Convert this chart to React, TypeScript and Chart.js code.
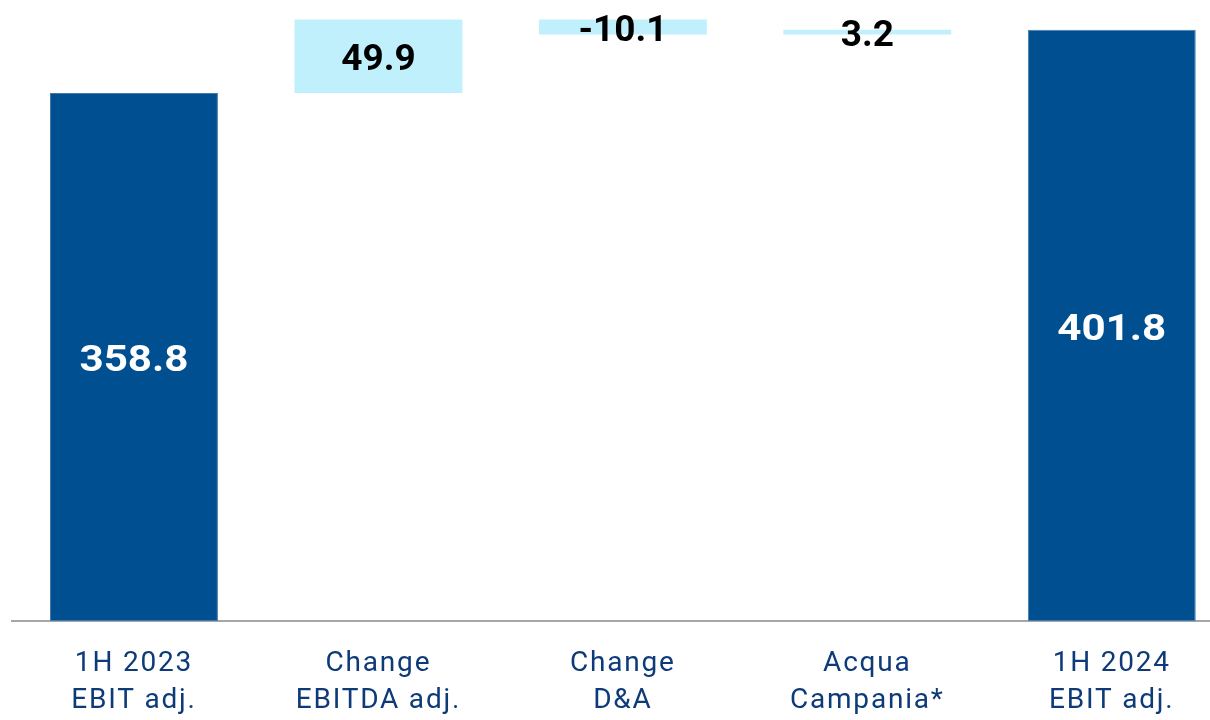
import React, { useEffect, useRef } from "react";
import { Chart, registerables } from "chart.js";

Chart.register(...registerables);

const categories: string[][] = [
  ["1H 2023", "EBIT adj."],
  ["Change", "EBITDA adj."],
  ["Change", "D&A"],
  ["Acqua", "Campania*"],
  ["1H 2024", "EBIT adj."],
];
const values: number[] = [358.8, 49.9, -10.1, 3.2, 401.8];
const isTotal: boolean[] = [true, false, false, false, true];

const DARK = "#004f91";
const LIGHT = "#c0f0fb";

function buildRanges(): [number, number][] {
  let running = 0;
  return values.map((v, i) => {
    if (isTotal[i]) {
      running = v;
      return [0, v] as [number, number];
    }
    const start = running;
    running = running + v;
    return [start, running] as [number, number];
  });
}

const spacingPlugin = {
  id: "tickSpacing",
  beforeDraw(chart: any) {
    (chart.ctx as any).letterSpacing = "1.8px";
  },
  afterDraw(chart: any) {
    (chart.ctx as any).letterSpacing = "0px";
  },
};

const labelPlugin = {
  id: "wfLabels",
  afterDatasetsDraw(chart: any) {
    const ctx = chart.ctx;
    const meta = chart.getDatasetMeta(0);
    const size = 37;
    meta.data.forEach((bar: any, i: number) => {
      const p = bar.getProps(["x", "y", "base"], true);
      const cy = (p.y + p.base) / 2;
      ctx.save();
      (ctx as any).letterSpacing = "0px";
      ctx.font = `bold ${size}px Roboto`;
      ctx.textAlign = "center";
      ctx.textBaseline = "alphabetic";
      ctx.fillStyle = isTotal[i] ? "#ffffff" : "#000000";
      ctx.translate(p.x, cy + size * 0.711 / 2 + 1);
      ctx.scale(isTotal[i] ? 1.14 : 1.0, 1);
      ctx.fillText(values[i].toFixed(1), 0, 0);
      ctx.restore();
    });
  },
};

export default function App() {
  const ref = useRef<HTMLCanvasElement | null>(null);
  useEffect(() => {
    if (!ref.current) return;
    const chart = new Chart(ref.current, {
      type: "bar",
      data: {
        labels: categories,
        datasets: [
          {
            data: buildRanges() as any,
            backgroundColor: isTotal.map((t) => (t ? DARK : LIGHT)),
            borderColor: isTotal.map((t) => (t ? "#4479ad" : LIGHT)),
            borderWidth: isTotal.map((t) => (t ? 1 : 0)),
            borderSkipped: false,
            barPercentage: 0.687,
            categoryPercentage: 1,
          },
        ],
      },
      options: {
        animation: false,
        responsive: false,
        maintainAspectRatio: false,
        layout: { padding: { left: 11.75, right: 6, top: 0, bottom: 0 } },
        plugins: { legend: { display: false }, tooltip: { enabled: false } },
        scales: {
          x: {
            grid: { display: false, drawTicks: false },
            border: { display: true, color: "#a6a6a6", width: 2 },
            ticks: {
              color: "#0d3a78",
              font: { family: "Roboto", size: 28, lineHeight: 1.3 },
              padding: 25,
              maxRotation: 0,
              autoSkip: false,
            },
            afterFit: (scale: any) => {
              scale.height = 99;
            },
          },
          y: {
            display: false,
            min: 0,
            max: 422,
          },
        },
      },
      plugins: [spacingPlugin, labelPlugin],
    });
    return () => chart.destroy();
  }, []);
  return (
    <div
      style={{
        position: "fixed",
        left: 0,
        top: 0,
        width: 1210,
        height: 720,
        overflow: "hidden",
        background: "#ffffff",
      }}
    >
      <canvas ref={ref} width={1240} height={720} style={{ display: "block" }} />
    </div>
  );
}
